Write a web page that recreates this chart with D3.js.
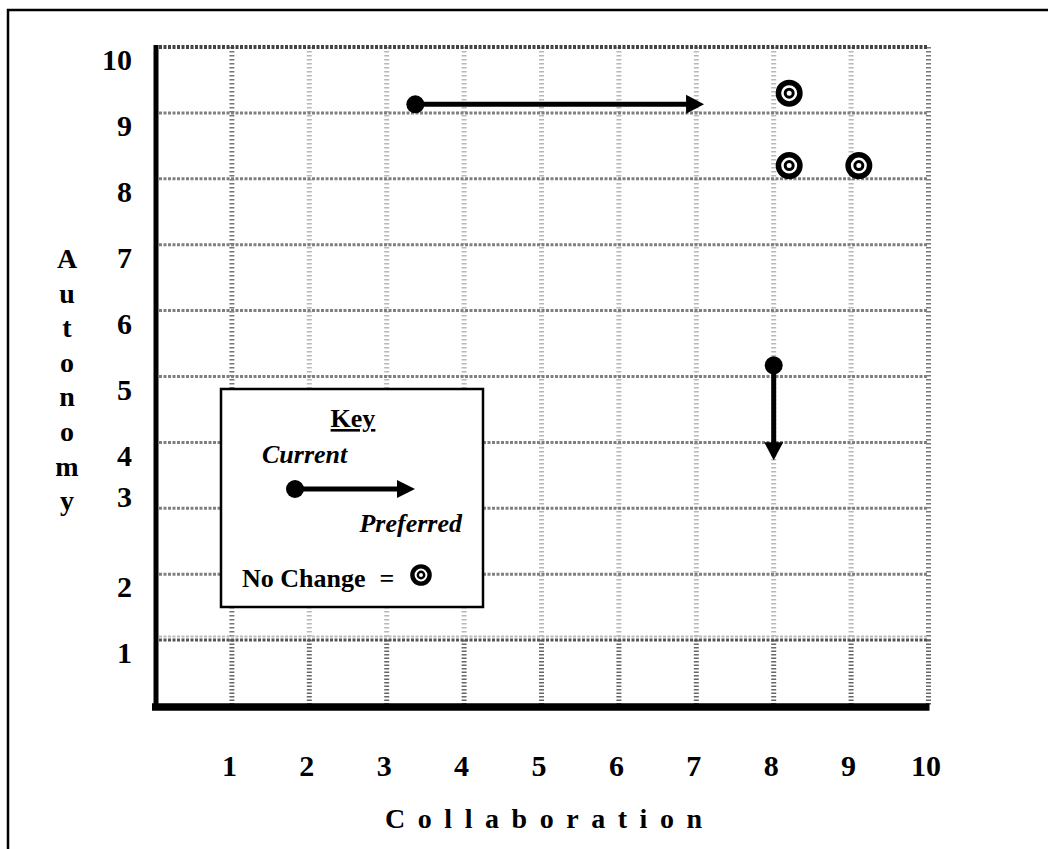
<!DOCTYPE html>
<html>
<head>
<meta charset="utf-8">
<script src="https://cdn.jsdelivr.net/npm/d3@7"></script>
<style>
  body { margin: 0; background: #fff; }
  text { font-family: "Liberation Serif", "Times New Roman", serif; font-weight: bold; fill: #000; }
</style>
</head>
<body>
<div id="chart"></div>
<script>
// axis ticks
const xTicks = [1, 2, 3, 4, 5, 6, 7, 8, 9, 10];
const yTicks = [1, 2, 3, 4, 5, 6, 7, 8, 9, 10];

// current -> preferred (arrows)
const moveStartX = [3.37, 8.0];
const moveStartY = [9.13, 5.17];
const moveEndX = [7.1, 8.0];
const moveEndY = [9.13, 3.73];

// no change points (targets)
const sameX = [8.2, 8.2, 9.1];
const sameY = [9.3, 8.2, 8.2];

const yLabel = "Autonomy";
const xLabel = "Collaboration";

const width = 1048, height = 849;

const svg = d3.select("#chart").append("svg")
    .attr("width", width)
    .attr("height", height);

// page frame, only top and left edges show
svg.append("rect")
    .attr("x", 8).attr("y", 10)
    .attr("width", 1200).attr("height", 1000)
    .attr("fill", "none")
    .attr("stroke", "#000")
    .attr("stroke-width", 2.5);

const x = d3.scaleLinear().domain([0, 10]).range([154.5, 928.5]);
const y = d3.scaleLinear().domain([0, 10]).range([706, 47]);

// vertical grid lines (lighter above the 1 line, darker below)
const grid = svg.append("g");
grid.selectAll("line.vup")
  .data(xTicks)
  .join("line")
    .attr("class", "vup")
    .attr("x1", d => x(d)).attr("x2", d => x(d))
    .attr("y1", y(10)).attr("y2", y(1))
    .attr("stroke", d => (d === 1 || d === 10) ? "#777" : "#b8b8b8")
    .attr("stroke-width", 5)
    .attr("stroke-dasharray", "1.5 2.5");
grid.selectAll("line.vlow")
  .data(xTicks)
  .join("line")
    .attr("class", "vlow")
    .attr("x1", d => x(d)).attr("x2", d => x(d))
    .attr("y1", y(1)).attr("y2", y(0))
    .attr("stroke", "#666")
    .attr("stroke-width", 5)
    .attr("stroke-dasharray", "1.5 2");

// horizontal grid lines
grid.selectAll("line.h")
  .data(yTicks)
  .join("line")
    .attr("class", "h")
    .attr("x1", x(0)).attr("x2", x(10))
    .attr("y1", d => y(d)).attr("y2", d => y(d))
    .attr("stroke", d => d === 10 ? "#444" : (d === 1 ? "#555" : "#808080"))
    .attr("stroke-width", d => d === 10 ? 4 : 3)
    .attr("stroke-dasharray", "3 1.5");
// faint double line just above the 1 line
grid.append("line")
    .attr("x1", x(0)).attr("x2", x(10))
    .attr("y1", y(1) - 3.5).attr("y2", y(1) - 3.5)
    .attr("stroke", "#bbb")
    .attr("stroke-width", 2)
    .attr("stroke-dasharray", "3 1.5");

// heavy axis lines
svg.append("line")
    .attr("x1", 156).attr("x2", 156)
    .attr("y1", y(10) - 2).attr("y2", y(0) + 4)
    .attr("stroke", "#000").attr("stroke-width", 5);
svg.append("line")
    .attr("x1", 152).attr("x2", x(10) + 1)
    .attr("y1", y(0) + 1).attr("y2", y(0) + 1)
    .attr("stroke", "#000").attr("stroke-width", 7.5);

// tick labels
const yAxis = svg.append("g")
    .attr("transform", "translate(132,13)")
    .call(d3.axisLeft(y).tickValues(yTicks).tickSize(0).tickPadding(0));
yAxis.select(".domain").remove();
yAxis.selectAll("text")
    .style("font-family", '"Liberation Serif", "Times New Roman", serif')
    .style("font-size", "30px")
    .style("font-weight", "bold")
    .attr("fill", "#000")
    // the "3" sits above its line in the original
    .attr("transform", d => d === 3 ? "translate(0,-24)" : null);

const xAxis = svg.append("g")
    .attr("transform", "translate(-3,755)")
    .call(d3.axisBottom(x).tickValues(xTicks).tickSize(0).tickPadding(0));
xAxis.select(".domain").remove();
xAxis.selectAll("text")
    .style("font-family", '"Liberation Serif", "Times New Roman", serif')
    .style("font-size", "30px")
    .style("font-weight", "bold")
    .attr("fill", "#000");

// axis titles
svg.append("g").selectAll("text")
  .data(yLabel.split(""))
  .join("text")
    .attr("x", 67)
    .attr("y", (d, i) => 268 + i * 34.6)
    .attr("text-anchor", "middle")
    .style("font-size", "28px")
    .text(d => d);

svg.append("text")
    .attr("x", 385).attr("y", 828)
    .attr("textLength", 317)
    .attr("lengthAdjust", "spacing")
    .style("font-size", "28px")
    .text(xLabel);

// arrow helper, pixel coords
function arrow(g, x1, y1, x2, y2, r, headLen, headW) {
  const dx = x2 - x1, dy = y2 - y1;
  const len = Math.hypot(dx, dy);
  const ux = dx / len, uy = dy / len;
  g.append("line")
      .attr("x1", x1).attr("y1", y1)
      .attr("x2", x2 - ux * headLen * 0.6).attr("y2", y2 - uy * headLen * 0.6)
      .attr("stroke", "#000").attr("stroke-width", 5);
  const bx = x2 - ux * headLen, by = y2 - uy * headLen;
  const px = -uy * headW / 2, py = ux * headW / 2;
  g.append("path")
      .attr("d", `M${x2},${y2}L${bx + px},${by + py}L${bx - px},${by - py}Z`)
      .attr("fill", "#000");
  g.append("circle")
      .attr("cx", x1).attr("cy", y1).attr("r", r)
      .attr("fill", "#000");
}

// target helper
function target(g, cx, cy, s) {
  g.append("circle")
      .attr("cx", cx).attr("cy", cy).attr("r", 10.75 * s)
      .attr("fill", "#fff").attr("stroke", "#000").attr("stroke-width", 5.5 * s);
  g.append("circle")
      .attr("cx", cx).attr("cy", cy).attr("r", 4 * s)
      .attr("fill", "#fff").attr("stroke", "#000").attr("stroke-width", 3 * s);
}

// key box
const key = svg.append("g");
key.append("rect")
    .attr("x", 221).attr("y", 389)
    .attr("width", 262).attr("height", 218)
    .attr("fill", "#fff")
    .attr("stroke", "#000").attr("stroke-width", 2.5);
key.append("text")
    .attr("x", 353).attr("y", 427)
    .attr("text-anchor", "middle")
    .style("font-size", "26px")
    .style("text-decoration", "underline")
    .text("Key");
key.append("text")
    .attr("x", 262).attr("y", 463)
    .style("font-size", "26px").style("font-style", "italic")
    .text("Current");
arrow(key, 295, 489, 415, 489, 9, 18, 18);
key.append("text")
    .attr("x", 462).attr("y", 532)
    .attr("text-anchor", "end")
    .style("font-size", "26px").style("font-style", "italic")
    .text("Preferred");
key.append("text")
    .attr("x", 242).attr("y", 587)
    .style("font-size", "26px")
    .text("No Change");
key.append("text")
    .attr("x", 387).attr("y", 587)
    .attr("text-anchor", "middle")
    .style("font-size", "26px")
    .text("=");
target(key, 421, 575, 0.8);

// data marks
const marks = svg.append("g");
d3.range(moveStartX.length).forEach(i => {
  arrow(marks,
    x(moveStartX[i]), y(moveStartY[i]),
    x(moveEndX[i]), y(moveEndY[i]),
    9, 18, 19);
});
d3.range(sameX.length).forEach(i => {
  target(marks, x(sameX[i]), y(sameY[i]), 1);
});
</script>
</body>
</html>
